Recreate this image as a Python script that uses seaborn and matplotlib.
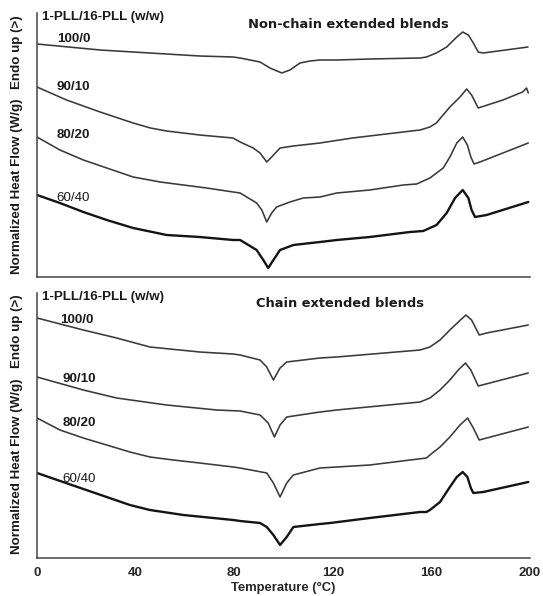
import numpy as np
import pandas as pd
import matplotlib
matplotlib.use("Agg")
import matplotlib.pyplot as plt
import seaborn as sns

# ---------------- data (heat flow in arbitrary offset units) -------------
blends = ["100/0", "90/10", "80/20", "60/40"]

# Non-chain extended blends (top panel)
nc_100_T = [0, 25.6, 45.8, 66.0, 79.5, 82.4, 90.5, 94.5, 99.3, 102.6, 106.7, 110.8, 114.8, 121.6,
            135.0, 155.4, 158.0, 162.0, 166.2, 170.3, 172.7, 175.0, 177.0, 179.0, 181.0, 199.2]
nc_100_H = [233, 227, 224, 221, 220, 219, 215, 209, 204, 207, 214, 216, 217, 217,
            218, 219, 220, 224, 230, 240, 245, 242, 234, 225, 224, 230]

nc_90_T = [0, 12.0, 25.6, 39.0, 46.0, 52.6, 66.0, 79.5, 82.4, 87.7, 90.5, 93.2, 95.2, 98.6,
           104.0, 114.8, 128.0, 148.5, 155.4, 159.4, 162.0, 167.5, 171.6, 174.3, 176.3, 179.0,
           189.0, 197.0, 198.6, 199.3]
nc_90_H = [190, 177, 165, 154, 149, 146, 142, 139, 135, 129, 124, 115, 120, 129,
           131, 134, 139, 145, 147, 150, 154, 170, 180, 188, 182, 169,
           177, 185, 189, 184]

nc_80_T = [0, 9.3, 18.8, 28.3, 39.0, 50.0, 59.4, 68.8, 79.6, 82.4, 89.1, 91.2, 93.2, 95.2, 97.2,
           102.6, 108.0, 114.8, 121.6, 135.0, 148.6, 154.0, 159.4, 164.8, 167.5, 170.3, 172.7,
           174.6, 176.0, 177.3, 179.7, 199.3]
nc_80_H = [140, 127, 117, 109, 100, 95, 92, 89, 85, 84, 74, 67, 55, 64, 70,
           75, 79, 80, 84, 87, 92, 93, 99, 109, 120, 134, 140,
           132, 120, 113, 115, 134]

nc_60_T = [0, 9.3, 18.8, 28.3, 39.0, 52.6, 66.0, 79.6, 82.4, 89.1, 91.8, 93.8, 95.9, 98.6,
           104.0, 114.8, 121.6, 135.0, 151.3, 156.7, 162.1, 166.2, 169.6, 172.7, 175.0, 176.3,
           177.7, 182.4, 199.3]
nc_60_H = [82, 74, 65, 57, 49, 42, 40, 37, 37, 27, 17, 9, 17, 27,
           32, 35, 37, 40, 45, 46, 52, 64, 79, 87, 79, 67,
           60, 62, 75]

# Chain extended blends (bottom panel)
ce_100_T = [0, 18.8, 32.3, 45.8, 66.0, 79.6, 82.4, 90.5, 93.2, 95.9, 98.6, 101.3, 114.8, 121.6,
            155.4, 159.4, 163.5, 167.5, 170.9, 174.0, 176.3, 179.4, 182.4, 199.3]
ce_100_H = [240, 228, 220, 211, 206, 204, 203, 198, 191, 178, 190, 196, 200, 201,
            208, 211, 218, 228, 236, 243, 238, 223, 225, 233]

ce_90_T = [0, 18.8, 32.3, 52.6, 72.9, 82.4, 90.5, 93.8, 96.3, 98.6, 101.3, 114.8, 121.6,
           155.4, 159.4, 163.5, 167.5, 170.9, 173.8, 176.0, 179.0, 199.3]
ce_90_H = [181, 168, 160, 153, 148, 147, 143, 135, 121, 133, 141, 146, 148,
           156, 160, 168, 178, 188, 195, 188, 172, 185]

ce_80_T = [0, 9.3, 18.8, 37.7, 45.8, 55.3, 66.0, 79.6, 82.4, 93.2, 95.9, 98.6, 101.3, 104.0,
           114.8, 121.6, 135.0, 158.0, 159.4, 163.5, 167.5, 171.6, 174.7, 177.0, 179.4, 199.3]
ce_80_H = [140, 128, 120, 106, 101, 98, 95, 91, 90, 85, 75, 61, 75, 83,
           90, 91, 93, 100, 103, 111, 121, 133, 140, 130, 118, 131]

ce_60_T = [0, 18.8, 37.7, 45.8, 59.4, 79.6, 82.4, 90.5, 93.2, 95.9, 98.6, 101.3, 104.0, 114.8,
           118.9, 135.0, 155.4, 158.0, 159.4, 163.5, 167.5, 170.3, 172.7, 174.6, 176.0, 177.0,
           181.0, 199.3]
ce_60_H = [85, 69, 53, 48, 43, 38, 37, 35, 31, 23, 13, 21, 31, 34,
           35, 40, 46, 46, 48, 56, 71, 81, 86, 81, 70, 65,
           66, 76]

x_ticks = [0, 40, 80, 120, 160, 200]
x_tick_labels = ["0", "40", "80", "120", "160", "200"]

panels = [
    ("Non-chain extended blends",
     [(nc_100_T, nc_100_H), (nc_90_T, nc_90_H), (nc_80_T, nc_80_H), (nc_60_T, nc_60_H)]),
    ("Chain extended blends",
     [(ce_100_T, ce_100_H), (ce_90_T, ce_90_H), (ce_80_T, ce_80_H), (ce_60_T, ce_60_H)]),
]

# ---------------- styling ----------------
sns.set_style("white")
plt.rcParams["font.family"] = ["Liberation Sans", "DejaVu Sans"]
plt.rcParams["lines.solid_joinstyle"] = "round"
plt.rcParams["lines.solid_capstyle"] = "round"

W, H = 543, 596
fig = plt.figure(figsize=(W / 100, H / 100), dpi=100)

L, R = 37 / W, 530 / W
ax_top = fig.add_axes([L, (H - 277) / H, R - L, (277 - 13) / H])
ax_bot = fig.add_axes([L, (H - 558) / H, R - L, (558 - 293) / H])

label_pos = {
    0: [(8, 238, True), (8, 190, True), (8, 142, True), (8, 79, False)],
    1: [(9.5, 238, True), (10.3, 179, True), (10.3, 135, True), (10.3, 79, False)],
}
ylims = [(0, 264), (0, 265)]
ytick_sets = [np.arange(25, 264, 27.3), np.arange(26, 265, 26.7)]
title_x = [0.631, 0.615]
endo_y = [52, 331]
nhf_y = [186, 466]

line_colors = ["#3a3a3a", "#3a3a3a", "#3a3a3a", "#141414"]
line_widths = [1.15, 1.15, 1.15, 1.7]
fs = 9.6

for i, (ax, (title, series)) in enumerate(zip([ax_top, ax_bot], panels)):
    rows = []
    for name, (T, Hf) in zip(blends, series):
        rows.append(pd.DataFrame({"T": T, "H": Hf, "blend": name}))
    df = pd.concat(rows, ignore_index=True)
    for j, name in enumerate(blends):
        sub = df[df["blend"] == name]
        sns.lineplot(data=sub, x="T", y="H", ax=ax, color=line_colors[j],
                     lw=line_widths[j], sort=False, estimator=None, legend=False)
    ax.set_xlim(0, 200)
    ax.set_ylim(*ylims[i])
    ax.set_xlabel("")
    ax.set_ylabel("")
    for s in ["top", "right"]:
        ax.spines[s].set_visible(False)
    for s in ["left", "bottom"]:
        ax.spines[s].set_color("#444444")
        ax.spines[s].set_linewidth(1.1)
    minor = np.arange(0, 201, 20)
    ax.set_xticks(minor)
    ax.set_yticks(ytick_sets[i])
    ax.set_yticklabels([])
    ax.tick_params(axis="x", direction="out", length=3, width=0.8, color="#444444")
    ax.tick_params(axis="y", direction="in", length=3, width=0.8, color="#444444")
    if i == 0:
        ax.set_xticklabels([])
    else:
        labels = [x_tick_labels[x_ticks.index(t)] if t in x_ticks else "" for t in minor]
        ax.set_xticklabels(labels, fontsize=9.5, fontweight="bold")
        ax.set_xlabel("Temperature (°C)", fontsize=9.4, fontweight="bold", labelpad=2)

    ax.text(2, ylims[i][1] - 4, "1-PLL/16-PLL (w/w)", fontsize=fs, fontweight="bold",
            va="center", ha="left", color="#1a1a1a")
    ax.text(title_x[i], 0.956 if i == 0 else 0.96, title,
            transform=ax.transAxes, fontsize=9.4, fontweight="bold",
            family="DejaVu Sans", ha="center", va="center", color="#1a1a1a")
    for name, (tx, ty, bold) in zip(blends, label_pos[i]):
        ax.text(tx, ty, name, fontsize=fs, fontweight="bold" if bold else "normal",
                va="center", ha="left", color="#1a1a1a")

    fig.text(17 / W, (H - endo_y[i]) / H, "Endo up (>)", rotation=90, fontsize=fs,
             fontweight="bold", ha="center", va="center", color="#1a1a1a")
    fig.text(17 / W, (H - nhf_y[i]) / H, "Normalized Heat Flow (W/g)", rotation=90,
             fontsize=fs, fontweight="bold", ha="center", va="center", color="#1a1a1a")

fig.savefig("out.png", dpi=100)
